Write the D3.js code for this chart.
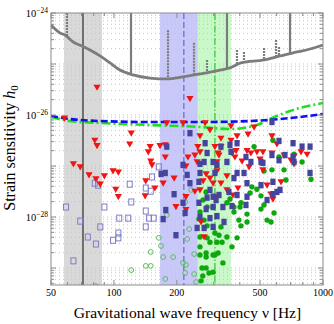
<!DOCTYPE html>
<html>
<head>
<meta charset="utf-8">
<script src="https://cdn.jsdelivr.net/npm/d3@7"></script>
<style>
  html, body { margin: 0; padding: 0; background: #fff; }
  svg { display: block; }
  text { font-family: "Liberation Serif", "DejaVu Serif", serif; fill: #000; }
</style>
</head>
<body>
<svg id="chart" width="334" height="324"></svg>
<script>
// ---- data ----
const xTickMajor = [50, 100, 200, 500, 1000];
const xTickMinor = [60, 70, 80, 90, 300, 400, 600, 700, 800, 900];
const yTickLabelled = [-24, -26, -28];
const yDecades = [-24, -25, -26, -27, -28, -29];

// shaded frequency bands [lo, hi] and marker lines
const greyBand = [57.7, 87.7];
const blueBand = [166, 252];
const greenBand = [252, 363];
const greyLineFreq = 71.1;
const blueLineFreq = 216;
const greenLineFreq = 304;

// detector noise curve (grey)
const noiseFreq = [50, 55.2, 58.3, 63.9, 71.1, 76.8, 85.8, 95.8, 106.9, 123.4, 148.8, 179.4, 213.9, 258, 321.6, 358.9, 405.2, 522.3, 622.7, 751.1, 866.9, 1000];
const noiseH = [5.8e-25, 4.05e-25, 3.7e-25, 2.7e-25, 2.2e-25, 1.88e-25, 1.44e-25, 1.05e-25, 7.6e-26, 6.1e-26, 5.3e-26, 5.1e-26, 5.6e-26, 6.4e-26, 7.6e-26, 8.4e-26, 1.05e-25, 1.2e-25, 1.44e-25, 1.72e-25, 1.97e-25, 2.36e-25];
// narrow noise lines
const spikeFreq = [59.6, 120.7, 181.4, 241.5, 278.7, 347.3, 387.7, 418.8, 522.3, 596.1, 615.8, 695.5];
const spikeTop = [1e-24, 1e-24, 4.6e-25, 2.6e-25, 1.2e-25, 1e-24, 1.88e-25, 1.72e-25, 2.06e-25, 2.96e-25, 2.15e-25, 1e-24];

// sensitivity curves
const blueCurveFreq = [50, 61.6, 85.8, 148.8, 258, 447.3, 622.7, 776, 1000];
const blueCurveH = [9.56e-27, 8.35e-27, 7.62e-27, 7.29e-27, 7.29e-27, 7.62e-27, 8.35e-27, 9.14e-27, 1.05e-26];
const greenCurveFreq = [50, 61.6, 85.8, 148.8, 258, 359, 483.4, 557.9, 695.5, 1000];
const greenCurveH = [9.14e-27, 7.62e-27, 6.97e-27, 6.37e-27, 5.82e-27, 5.31e-27, 6.37e-27, 8.35e-27, 1.2e-26, 1.72e-26];

// upper limits (red triangles) [freq, h0]
const upperLimits = [
  [83, 3.5e-26], [231, 2.1e-26], [58, 8.7e-27], [81, 3.2e-27], [83, 2.5e-27], [64, 1.1e-27], [69, 9.6e-28],
  [76, 6.7e-28], [82, 5.6e-28], [86, 4.4e-28], [90, 6.4e-28], [99, 8.0e-28], [105, 7.6e-28], [102, 3.5e-28],
  [105, 2.5e-28], [179, 7.0e-27], [214, 7.0e-27], [273, 7.0e-27], [121, 4.4e-27], [119, 2.7e-27], [149, 2.4e-27],
  [146, 1.9e-27], [166, 2.5e-27], [176, 2.6e-27], [176, 1.5e-27], [150, 1.25e-27], [152, 1.05e-27], [142, 5.1e-28],
  [172, 4.6e-28], [141, 2.6e-28], [157, 3.7e-28], [194, 5.8e-28], [221, 1.0e-27], [226, 1.5e-27], [198, 1.6e-28],
  [221, 2.5e-28], [221, 1.4e-28], [258, 3.9e-27], [252, 2.4e-27], [258, 1.9e-27], [244, 1.64e-27], [250, 1.2e-27],
  [244, 3.2e-28], [258, 3.4e-28], [261, 8.0e-29], [270, 4.1e-29], [288, 5.1e-27], [304, 2.4e-27], [315, 1.8e-27],
  [276, 7.0e-28], [288, 5.8e-28], [298, 4.6e-28], [267, 5.1e-28], [363, 6.1e-27], [468, 5.8e-27], [388, 3.9e-27],
  [438, 4.2e-27], [570, 3.9e-27], [325, 3.5e-27], [363, 3.2e-27], [325, 2.4e-27], [318, 1.64e-27], [367, 1.8e-27],
  [384, 2.0e-27], [433, 2.0e-27], [452, 1.8e-27], [483, 1.9e-27], [516, 1.9e-27], [570, 1.8e-27], [602, 2.7e-27],
  [651, 1.64e-27], [785, 1.9e-27], [839, 1.7e-27], [727, 1.57e-27], [379, 1.5e-27], [410, 1.25e-27], [500, 1.37e-27],
  [443, 9.6e-28], [516, 8.4e-28], [703, 1.3e-27], [727, 1.1e-27], [311, 1.2e-27], [311, 8.0e-28], [347, 6.4e-28],
  [325, 4.6e-28], [347, 3.4e-28], [392, 3.7e-28], [371, 2.7e-28], [308, 2.5e-28], [540, 4.2e-28], [630, 4.9e-28],
  [564, 2.8e-28], [576, 2.25e-28]
];

// detections, filled squares
const filledSquares = [
  [231, 4.4e-27], [179, 2.4e-27], [214, 1.05e-27], [168, 7.0e-28], [176, 7.3e-28], [224, 6.7e-28], [194, 2.8e-28],
  [214, 1.9e-28], [177, 1.37e-28], [172, 9.1e-29], [198, 4.4e-29], [219, 1.2e-28], [231, 4.6e-28], [258, 1.1e-27],
  [258, 7.3e-28], [255, 4.9e-28], [255, 1.9e-28], [258, 1.0e-28], [250, 6.1e-29], [273, 2.8e-27], [279, 1.8e-27],
  [270, 1.2e-27], [298, 1.2e-27], [304, 7.3e-28], [288, 3.4e-28], [279, 2.4e-28], [298, 2.5e-28], [276, 1.43e-28],
  [298, 1.57e-28], [288, 9.5e-29], [270, 6.1e-29], [298, 6.4e-29], [570, 7.3e-27], [325, 2.4e-27], [359, 2.6e-27],
  [388, 2.8e-27], [616, 3.1e-27], [719, 2.8e-27], [794, 2.4e-27], [867, 2.4e-27], [363, 1.9e-27], [428, 1.5e-27],
  [452, 1.2e-27], [505, 1.2e-27], [516, 1.15e-27], [570, 1.64e-27], [616, 1.3e-27], [658, 1.64e-27], [719, 1.5e-27],
  [727, 1.2e-27], [347, 1.2e-27], [311, 1.05e-27], [388, 7.3e-28], [419, 7.3e-28], [375, 5.8e-28], [433, 4.6e-28],
  [505, 4.2e-28], [576, 4.9e-28], [602, 3.1e-28], [623, 3.4e-28], [318, 2.7e-28], [355, 3.1e-28], [388, 2.7e-28],
  [433, 2.5e-28], [540, 2.15e-28], [576, 2.8e-28], [308, 2.15e-28], [332, 1.57e-28], [367, 1.64e-28], [428, 1.72e-28],
  [867, 7.3e-28], [311, 1.04e-28], [336, 8.0e-29]
];

// open squares
const openSquares = [
  [81, 4.6e-28], [84, 4.2e-28], [59, 1.57e-28], [90, 1.57e-28], [69, 8.3e-29], [86, 6.4e-29], [75, 4.05e-29],
  [82, 2.95e-29], [99, 3.5e-29], [105, 3.9e-29], [106, 9.5e-29], [64, 1.38e-29], [105, 4.85e-29], [164, 9.6e-28],
  [152, 6.1e-28], [119, 4.4e-28], [142, 3.7e-28], [150, 3.2e-28], [121, 1.97e-28], [142, 1.31e-28], [147, 9.5e-29],
  [155, 9.5e-29], [117, 9.5e-29], [142, 6.4e-29]
];

// filled green circles
const filledCircles = [
  [276, 3.1e-28], [267, 2.15e-28], [279, 1.57e-28], [258, 1.25e-28], [298, 1.57e-28], [255, 9.1e-29], [270, 8.7e-29],
  [279, 6.7e-29], [258, 4.05e-29], [279, 3.9e-29], [304, 4.85e-29], [258, 2.6e-29], [288, 3.2e-29], [276, 1.97e-29],
  [298, 1.8e-29], [258, 1.8e-29], [276, 1.64e-29], [304, 1.8e-29], [315, 1.97e-29], [264, 1.0e-29], [276, 1.0e-29],
  [332, 1.26e-29], [298, 8.3e-30], [285, 8.0e-30], [266, 7.0e-30], [261, 5.6e-30], [468, 2.4e-27], [576, 3.2e-27],
  [616, 1.5e-27], [727, 1.7e-27], [794, 1.2e-27], [651, 8.4e-28], [570, 8.4e-28], [665, 5.3e-28], [522, 8.0e-28],
  [457, 3.9e-28], [483, 3.5e-28], [505, 2.6e-28], [448, 2.95e-28], [405, 1.9e-28], [375, 1.57e-28], [347, 1.9e-28],
  [359, 2.25e-28], [401, 1.57e-28], [522, 1.72e-28], [505, 1.43e-28], [583, 1.2e-28], [433, 1.14e-28], [375, 1.25e-28],
  [396, 8.7e-29], [433, 8.0e-29], [405, 6.7e-29], [540, 8.7e-29], [564, 8.0e-29], [388, 3.9e-29], [325, 6.4e-29],
  [318, 4.4e-29], [347, 4.05e-29], [329, 3.2e-29], [367, 2.6e-29], [876, 5.5e-28], [311, 3.2e-29]
];

// open green circles
const openCircles = [
  [234, 3.4e-28], [219, 1.97e-28], [229, 5.8e-29], [224, 3.7e-29], [164, 3.9e-29], [168, 2.7e-29], [150, 2.06e-29],
  [172, 1.64e-29], [192, 1.64e-29], [179, 1.09e-28], [121, 9.1e-30], [142, 1.1e-29], [150, 1.1e-29], [214, 1.26e-29],
  [221, 1.15e-29], [242, 1.88e-29], [219, 8.0e-30], [242, 7.6e-30], [176, 6.1e-30], [247, 5.3e-30], [82, 4.4e-30]
];

// ---- drawing ----
const svg = d3.select('#chart');
const pLeft = 51, pRight = 323, pTop = 13, pBottom = 285;

const xScale = d3.scaleLog().domain([50, 1000]).range([pLeft, pRight]);
const yScale = d3.scaleLog().domain([Math.pow(10, -24 - (pBottom - pTop) / 51), 1e-24]).range([pBottom, pTop]);

svg.append('defs').append('clipPath').attr('id', 'plot-clip')
  .append('rect').attr('x', pLeft).attr('y', pTop).attr('width', pRight - pLeft).attr('height', pBottom - pTop);

const plot = svg.append('g').attr('clip-path', 'url(#plot-clip)');

// bands
const bands = [[greyBand, '#d9d9d9'], [blueBand, '#c9c9f9'], [greenBand, '#c9f9c9']];
plot.selectAll('.band')
  .data(bands)
  .enter()
  .append('rect')
  .attr('class', 'band')
  .attr('x', d => xScale(d[0][0]))
  .attr('width', d => xScale(d[0][1]) - xScale(d[0][0]))
  .attr('y', pTop)
  .attr('height', pBottom - pTop)
  .attr('fill', d => d[1]);

// horizontal dotted grid
let gridVals = [];
for (let e of yDecades) {
  for (let m = 1; m <= 9; m++) gridVals.push(m * Math.pow(10, e - 1));
}
gridVals = gridVals.filter(v => v >= yScale.domain()[0] && v <= 1e-24);
plot.selectAll('.grid')
  .data(gridVals)
  .enter()
  .append('line')
  .attr('class', 'grid')
  .attr('x1', pLeft).attr('x2', pRight)
  .attr('y1', d => yScale(d)).attr('y2', d => yScale(d))
  .attr('stroke', '#c4c4c4')
  .attr('stroke-width', 1)
  .attr('stroke-dasharray', '1,3');

// vertical marker lines
plot.append('line')
  .attr('x1', xScale(greyLineFreq)).attr('x2', xScale(greyLineFreq))
  .attr('y1', pTop).attr('y2', pBottom)
  .attr('stroke', '#6e6e6e').attr('stroke-width', 2);
plot.append('line')
  .attr('x1', xScale(blueLineFreq)).attr('x2', xScale(blueLineFreq))
  .attr('y1', pTop).attr('y2', pBottom)
  .attr('stroke', '#6464d0').attr('stroke-width', 1.2)
  .attr('stroke-dasharray', '6,3');
plot.append('line')
  .attr('x1', xScale(greenLineFreq)).attr('x2', xScale(greenLineFreq))
  .attr('y1', pTop).attr('y2', pBottom)
  .attr('stroke', '#34c034').attr('stroke-width', 1.2)
  .attr('stroke-dasharray', '7,2,1.5,2');

// noise curve
const noise = noiseFreq.map((f, i) => ({ f: f, h: noiseH[i] }));
const noiseAt = function(f) {
  const i = d3.bisector(d => d.f).right(noise, f);
  const a = noise[Math.max(0, i - 1)], b = noise[Math.min(noise.length - 1, i)];
  if (a.f === b.f) return a.h;
  const t = (Math.log(f) - Math.log(a.f)) / (Math.log(b.f) - Math.log(a.f));
  return Math.exp(Math.log(a.h) + t * (Math.log(b.h) - Math.log(a.h)));
};

plot.selectAll('.spike')
  .data(spikeFreq.map((f, i) => ({ f: f, top: spikeTop[i] })))
  .enter()
  .append('line')
  .attr('class', 'spike')
  .attr('x1', d => xScale(d.f)).attr('x2', d => xScale(d.f))
  .attr('y1', d => yScale(d.top)).attr('y2', d => yScale(noiseAt(d.f)))
  .attr('stroke', '#7c7c7c')
  .attr('stroke-width', 2.2)
  .attr('stroke-dasharray', d => d.top >= 1e-24 && d.f > 100 ? null : '2,1');

plot.append('path')
  .datum(noise)
  .attr('fill', 'none')
  .attr('stroke', '#7c7c7c')
  .attr('stroke-width', 2.8)
  .attr('d', d3.line()
    .x(d => xScale(d.f))
    .y(d => yScale(d.h))
    .curve(d3.curveMonotoneX));

// sensitivity curves
plot.append('path')
  .datum(greenCurveFreq.map((f, i) => ({ f: f, h: greenCurveH[i] })))
  .attr('fill', 'none')
  .attr('stroke', '#1fe01f')
  .attr('stroke-width', 2.6)
  .attr('stroke-dasharray', '9,3,2,3')
  .attr('d', d3.line().x(d => xScale(d.f)).y(d => yScale(d.h)).curve(d3.curveMonotoneX));

plot.append('path')
  .datum(blueCurveFreq.map((f, i) => ({ f: f, h: blueCurveH[i] })))
  .attr('fill', 'none')
  .attr('stroke', '#1010ee')
  .attr('stroke-width', 2.6)
  .attr('stroke-dasharray', '7,3')
  .attr('d', d3.line().x(d => xScale(d.f)).y(d => yScale(d.h)).curve(d3.curveMonotoneX));

// markers
plot.selectAll('.osq')
  .data(openSquares)
  .enter()
  .append('rect')
  .attr('class', 'osq')
  .attr('x', d => xScale(d[0]) - 2.5)
  .attr('y', d => yScale(d[1]) - 3)
  .attr('width', 5).attr('height', 6)
  .attr('fill', 'none')
  .attr('stroke', '#7e7ec6')
  .attr('stroke-width', 1);

plot.selectAll('.ocirc')
  .data(openCircles)
  .enter()
  .append('circle')
  .attr('class', 'ocirc')
  .attr('cx', d => xScale(d[0]))
  .attr('cy', d => yScale(d[1]))
  .attr('r', 2.4)
  .attr('fill', 'none')
  .attr('stroke', '#5cbd5c')
  .attr('stroke-width', 1);

plot.selectAll('.fcirc')
  .data(filledCircles)
  .enter()
  .append('circle')
  .attr('class', 'fcirc')
  .attr('cx', d => xScale(d[0]))
  .attr('cy', d => yScale(d[1]))
  .attr('r', 2.7)
  .attr('fill', '#0ea80e');

plot.selectAll('.tri')
  .data(upperLimits)
  .enter()
  .append('path')
  .attr('class', 'tri')
  .attr('transform', d => `translate(${xScale(d[0])},${yScale(d[1])})`)
  .attr('d', 'M-3.6,-2.6L3.6,-2.6L0,3.6Z')
  .attr('fill', '#f01414');

plot.selectAll('.fsq')
  .data(filledSquares)
  .enter()
  .append('rect')
  .attr('class', 'fsq')
  .attr('x', d => xScale(d[0]) - 2.6)
  .attr('y', d => yScale(d[1]) - 3.2)
  .attr('width', 5.2).attr('height', 6.4)
  .attr('fill', '#45459d');

// frame and ticks
const axisColor = '#8a8a8a';
svg.append('rect')
  .attr('x', pLeft).attr('y', pTop)
  .attr('width', pRight - pLeft).attr('height', pBottom - pTop)
  .attr('fill', 'none').attr('stroke', axisColor).attr('stroke-width', 1);

const xTicks = xTickMajor.map(v => ({ v: v, len: 5 })).concat(xTickMinor.map(v => ({ v: v, len: 3 })));
for (let side of [pBottom, pTop]) {
  const dir = side === pBottom ? -1 : 1;
  svg.selectAll(null)
    .data(xTicks)
    .enter()
    .append('line')
    .attr('x1', d => xScale(d.v)).attr('x2', d => xScale(d.v))
    .attr('y1', side).attr('y2', d => side + dir * d.len)
    .attr('stroke', axisColor).attr('stroke-width', 1);
}

let yTicks = [];
for (let e of yDecades) {
  yTicks.push({ v: Math.pow(10, e), len: 5 });
  for (let m = 2; m <= 9; m++) yTicks.push({ v: m * Math.pow(10, e - 1), len: 3 });
}
yTicks = yTicks.filter(d => d.v >= yScale.domain()[0] && d.v <= 1e-24);
for (let side of [pLeft, pRight]) {
  const dir = side === pLeft ? 1 : -1;
  svg.selectAll(null)
    .data(yTicks)
    .enter()
    .append('line')
    .attr('x1', side).attr('x2', d => side + dir * d.len)
    .attr('y1', d => yScale(d.v)).attr('y2', d => yScale(d.v))
    .attr('stroke', axisColor).attr('stroke-width', 1);
}

// tick labels
svg.selectAll('.xlab')
  .data(xTickMajor)
  .enter()
  .append('text')
  .attr('class', 'xlab')
  .attr('x', d => xScale(d))
  .attr('y', 296)
  .attr('text-anchor', 'middle')
  .attr('font-size', 10)
  .text(d => d);

const ylab = svg.selectAll('.ylab')
  .data(yTickLabelled)
  .enter()
  .append('text')
  .attr('class', 'ylab')
  .attr('x', 48)
  .attr('y', d => yScale(Math.pow(10, d)) + 4)
  .attr('text-anchor', 'end')
  .attr('font-size', 10.5);
ylab.append('tspan').text('10');
ylab.append('tspan')
  .attr('dy', -4.5)
  .attr('font-size', 7.5)
  .text(d => '\u2212' + Math.abs(d));

// axis titles
svg.append('text')
  .attr('x', 187.5)
  .attr('y', 318)
  .attr('text-anchor', 'middle')
  .attr('font-size', 15.5)
  .text('Gravitational wave frequency \u03bd [Hz]');

const ytitle = svg.append('text')
  .attr('transform', 'translate(15,148) rotate(-90)')
  .attr('text-anchor', 'middle')
  .attr('font-size', 16);
ytitle.append('tspan').text('Strain sensitivity ');
ytitle.append('tspan').attr('font-style', 'italic').text('h');
ytitle.append('tspan').attr('font-size', 11).attr('dy', 3).text('0');
</script>
</body>
</html>
